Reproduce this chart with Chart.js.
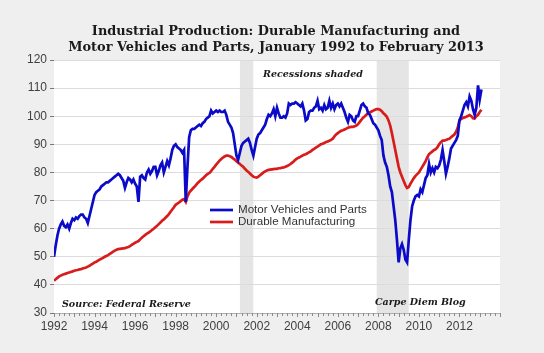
<!DOCTYPE html>
<html><head><meta charset="utf-8">
<script src="https://cdn.jsdelivr.net/npm/chart.js@4.4.1/dist/chart.umd.min.js"></script>
<style>html,body{margin:0;padding:0;background:#efefef;} #wrap{width:544px;height:353px;}</style>
</head><body><div id="wrap"><canvas id="c" width="544" height="353"></canvas></div>
<script>
const START_YEAR = 1992;
// Monthly index values, Jan 1992 .. Feb 2013
const motorVehicles = [
 50, 54, 57.5, 60, 61.5, 62.5, 61, 60.5, 61.5, 60, 62, 63.5,
 63, 64, 63.5, 64.5, 65, 65, 64, 63.5, 62, 64.5, 67, 69.5,
 72, 73, 73.5, 74, 75, 75.5, 76, 76.5, 76.5, 77, 77.5, 78,
 78.5, 79, 79.5, 79, 78, 77, 74.5, 76.5, 78, 77.5, 76.5, 77.5,
 76, 75, 69.5, 78.5, 79, 78, 77.5, 80, 81, 79.5, 80.5, 82,
 82, 79, 80.5, 82.5, 83.5, 80, 82, 84, 82.5, 85, 88, 89.5,
 90, 89, 88.5, 88, 87, 88, 69.5, 82, 92.5, 95, 95.5, 95.5,
 96, 96.5, 97, 96.5, 97.5, 98, 99, 99.5, 100, 102, 101, 101.5,
 102, 101.5, 102, 101.5, 101.5, 102, 100.5, 98, 97, 96, 94, 90,
 86, 84.5, 87, 89.5, 90.5, 91, 91.5, 92, 90.5, 88, 86, 89,
 92, 93.5, 94, 95, 96, 97, 99, 100.5, 100, 101, 102.5, 100,
 103, 101, 99.5, 99.5, 100, 99.5, 101, 104.5, 104, 104.5, 104.5, 105,
 104.5, 104, 103.5, 104.5, 102, 98.5, 99, 101.5, 102, 102, 103, 103.5,
 105.5, 102.5, 103, 102, 104, 102.5, 103, 105.5, 103, 104.5, 102.5, 104,
 104.5, 103.5, 104.5, 103, 101.5, 99.5, 98, 100.5, 100, 98.5, 98, 100,
 100, 102, 104, 104.5, 103.5, 103, 101, 100.5, 99, 97.5, 97, 96,
 95, 93, 91.5, 86, 83.5, 82, 79, 75, 73, 68, 63, 56,
 48, 53, 54.5, 52.5, 49, 48, 56, 63, 68, 70, 71.5, 72,
 71.5, 74, 73, 75.5, 78, 79, 83, 80, 81.5, 80, 82, 81.5,
 82.5, 84.5, 88, 84, 79.5, 82, 85, 88.5, 89.5, 90.5, 91.5, 93,
 98.5, 100, 102, 104, 105, 103.5, 107, 105.5, 102.5, 100.5, 103, 111,
 106, 109.5
];
const durableMfg = [
 41.5, 42, 42.5, 43, 43.3, 43.6, 43.8, 44, 44.2, 44.4, 44.6, 44.8,
 45, 45.2, 45.3, 45.5, 45.6, 45.8, 46, 46.2, 46.5, 46.8, 47.2, 47.6,
 48, 48.2, 48.6, 49, 49.3, 49.6, 50, 50.3, 50.6, 51, 51.4, 51.8,
 52.2, 52.5, 52.7, 52.8, 52.9, 53, 53.1, 53.3, 53.5, 53.8, 54.2, 54.6,
 55, 55.3, 55.6, 56.2, 56.8, 57.3, 57.8, 58.2, 58.6, 59, 59.5, 60,
 60.5, 61, 61.6, 62.2, 62.8, 63.3, 63.9, 64.5, 65.2, 66, 66.8, 67.6,
 68.5, 68.9, 69.3, 69.8, 70.3, 70.5, 69.5, 71.5, 72.8, 73.5, 74.2, 74.8,
 75.5, 76.2, 76.8, 77.3, 77.8, 78.4, 79, 79.5, 79.8, 80.5, 81.3, 82,
 82.8, 83.5, 84.2, 84.8, 85.3, 85.7, 86, 86, 85.8, 85.5, 85, 84.6,
 84, 83.5, 83, 82.5, 82, 81.3, 80.7, 80.2, 79.6, 79, 78.5, 78.3,
 78.2, 78.5, 79, 79.5, 80, 80.4, 80.7, 80.9, 81, 81.1, 81.2, 81.3,
 81.3, 81.5, 81.5, 81.7, 81.8, 82, 82.3, 82.6, 83, 83.5, 84, 84.6,
 85, 85.3, 85.6, 86, 86.3, 86.5, 86.8, 87.2, 87.5, 88, 88.4, 88.8,
 89.2, 89.6, 90, 90.2, 90.5, 90.8, 91, 91.3, 91.6, 92, 92.8, 93.5,
 94, 94.4, 94.8, 95, 95.3, 95.6, 95.9, 96.1, 96.2, 96.2, 96.4, 96.7,
 97.2, 98, 98.8, 99.5, 100, 100.6, 101, 101.4, 101.7, 102, 102.3, 102.5,
 102.5, 102.3, 101.8, 101, 100.5, 99.8, 98.5, 96.7, 94, 91, 88, 85,
 82, 80, 78.5, 77, 75.5, 74.5, 74.8, 76, 77, 78, 78.8, 79.4,
 80, 81, 82, 83, 84, 85.5, 86.5, 87, 87.5, 88, 88.3, 89,
 90, 90.8, 91.3, 91.3, 91.5, 91.8, 92, 92.5, 93, 93.5, 94.5, 96,
 98.5, 99, 99.4, 99.6, 99.8, 100.1, 100.4, 100, 99.3, 99.2, 100, 100.5,
 101.5, 102.3
];
const recessions = [[2001.17, 2001.83], [2007.92, 2009.5]];
const xLabelYears = [1992, 1994, 1996, 1998, 2000, 2002, 2004, 2006, 2008, 2010, 2012];
const titleLines = ['Industrial Production: Durable Manufacturing and', 'Motor Vehicles and Parts, January 1992 to February 2013'];
const seriesNames = ['Motor Vehicles and Parts', 'Durable Manufacturing'];
const seriesColors = ['#0a0ac8', '#d81c1c'];
const noteRecession = 'Recessions shaded';
const noteSource = 'Source: Federal Reserve';
const noteBlog = 'Carpe Diem Blog';

const months = motorVehicles.map((_, i) => START_YEAR + i / 12);
const toPts = arr => arr.map((v, i) => ({x: months[i], y: v}));

function fitSize(ctx, text, font, target) {
  ctx.font = font.replace('SIZE', '20px');
  const w = ctx.measureText(text).width;
  return 20 * target / w;
}

const decor = {
  id: 'decor',
  beforeDraw(chart) {
    const {ctx, chartArea: a, scales} = chart;
    ctx.save();
    ctx.fillStyle = '#efefef';
    ctx.fillRect(0, 0, chart.width, chart.height);
    ctx.fillStyle = '#ffffff';
    ctx.fillRect(a.left, a.top, a.right - a.left, a.bottom - a.top);
    ctx.fillStyle = '#e5e5e5';
    recessions.forEach(([s, e]) => {
      const x1 = scales.x.getPixelForValue(s), x2 = scales.x.getPixelForValue(e);
      ctx.fillRect(x1, a.top, x2 - x1, a.bottom - a.top);
    });
    ctx.restore();
  },
  afterDraw(chart) {
    const {ctx, chartArea: a, scales} = chart;
    ctx.save();
    // quarterly ticks
    ctx.strokeStyle = '#8a8a8a';
    ctx.lineWidth = 1;
    for (let q = 0; q <= 88; q++) {
      const x = Math.round(scales.x.getPixelForValue(START_YEAR + q / 4)) + 0.5;
      ctx.beginPath();
      ctx.moveTo(x, a.bottom);
      ctx.lineTo(x, a.bottom + (q % 4 === 0 ? 4 : 3));
      ctx.stroke();
    }
    // title
    const tf = 'bold SIZE "DejaVu Serif", serif';
    const ts = fitSize(ctx, titleLines[1], tf, 416);
    ctx.font = tf.replace('SIZE', ts.toFixed(2) + 'px');
    ctx.fillStyle = '#1a1a1a';
    ctx.textAlign = 'center';
    ctx.textBaseline = 'middle';
    ctx.fillText(titleLines[0], 276, 32);
    ctx.fillText(titleLines[1], 276, 48);
    // notes
    const nf = 'italic bold SIZE "DejaVu Serif", serif';
    const ns = fitSize(ctx, noteSource, nf, 129);
    ctx.font = nf.replace('SIZE', ns.toFixed(2) + 'px');
    ctx.textAlign = 'left';
    ctx.fillText(noteRecession, 263, 75);
    ctx.fillText(noteSource, 62, 305);
    ctx.fillText(noteBlog, 375, 303);
    // legend
    const lf = 'SIZE "Liberation Sans", Arial, sans-serif';
    const ls = fitSize(ctx, seriesNames[0], lf, 129);
    ctx.font = lf.replace('SIZE', ls.toFixed(2) + 'px');
    ctx.fillStyle = '#333333';
    const ly = [210, 222];
    seriesNames.forEach((n, i) => {
      ctx.strokeStyle = seriesColors[i];
      ctx.lineWidth = 2.7;
      ctx.beginPath();
      ctx.moveTo(210, ly[i]);
      ctx.lineTo(233, ly[i]);
      ctx.stroke();
      ctx.fillText(n, 238, ly[i]);
    });
    ctx.restore();
  }
};

new Chart(document.getElementById('c'), {
  type: 'line',
  data: {
    datasets: [
      {label: seriesNames[0], data: toPts(motorVehicles), borderColor: seriesColors[0], borderWidth: 2.7, pointRadius: 0, tension: 0},
      {label: seriesNames[1], data: toPts(durableMfg), borderColor: seriesColors[1], borderWidth: 2.7, pointRadius: 0, tension: 0}
    ]
  },
  options: {
    responsive: false,
    animation: false,
    devicePixelRatio: 1,
    layout: {padding: {top: 60, right: 44, left: 0, bottom: 0}},
    plugins: {legend: {display: false}, tooltip: {enabled: false}, title: {display: false}},
    scales: {
      x: {
        type: 'linear', min: 1992, max: 2014,
        afterFit: s => { s.height = 40; },
        grid: {display: false, drawTicks: false},
        border: {display: true, color: '#b0b0b0'},
        ticks: {stepSize: 2, padding: 6, color: '#404040', font: {family: '"Liberation Sans", Arial, sans-serif', size: 12},
          callback: v => xLabelYears.includes(v) ? String(v) : ''}
      },
      y: {
        min: 30, max: 120,
        afterFit: s => { s.width = 54; },
        grid: {color: '#dcdcdc', tickColor: '#7a7a7a', tickLength: 4, drawTicks: true},
        border: {display: false},
        ticks: {stepSize: 10, padding: 3, color: '#404040', font: {family: '"Liberation Sans", Arial, sans-serif', size: 12}}
      }
    }
  },
  plugins: [decor]
});
</script></body></html>
